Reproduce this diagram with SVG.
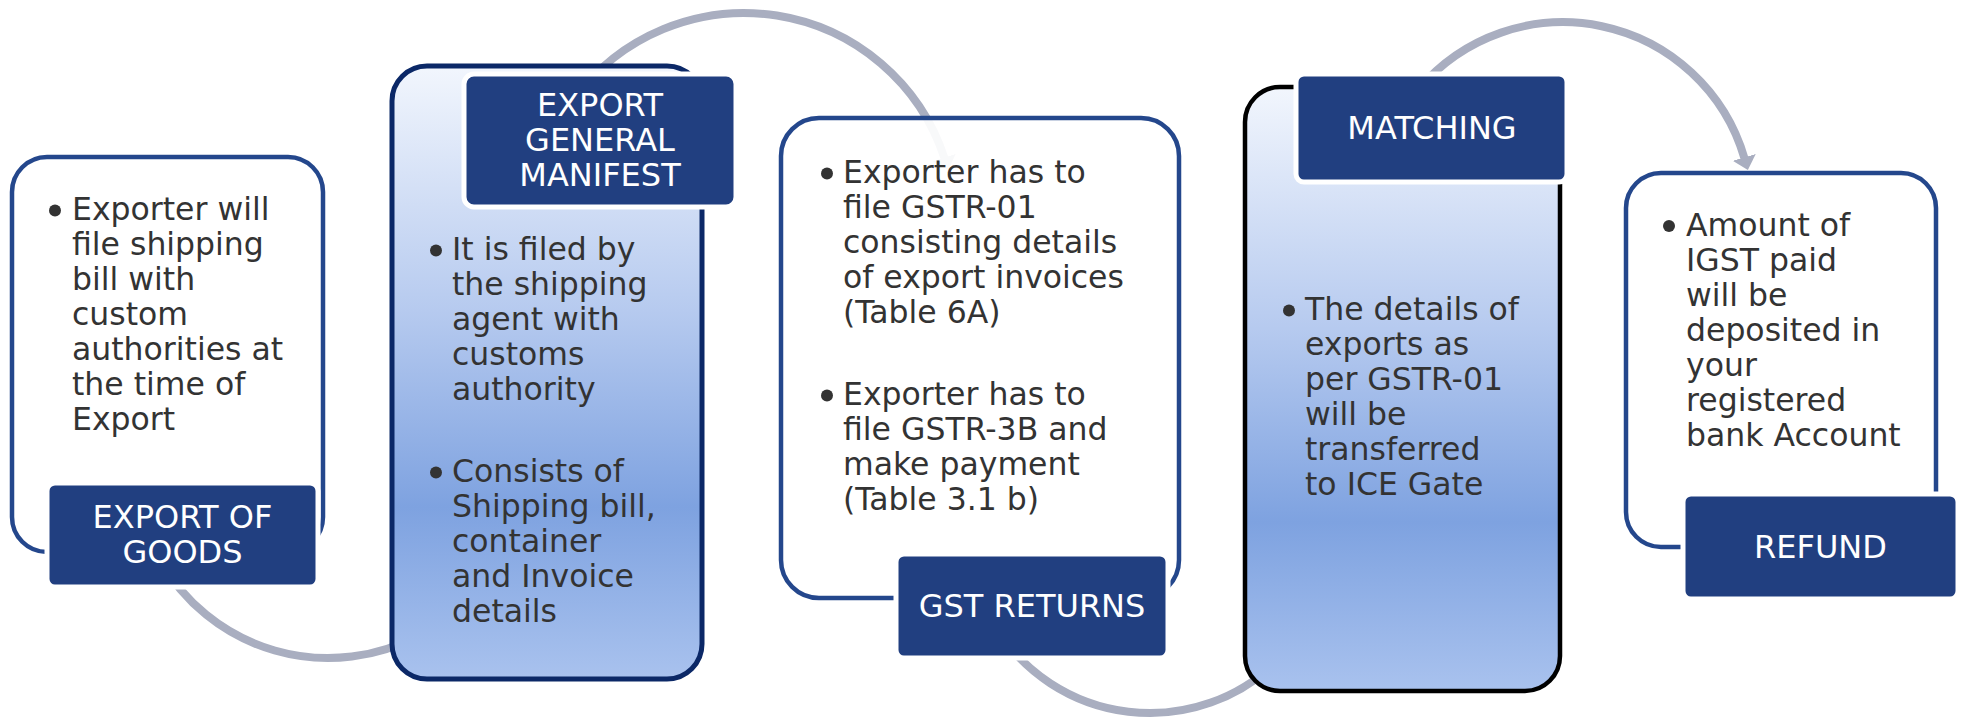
<svg xmlns="http://www.w3.org/2000/svg" width="1961" height="718" viewBox="0 0 1961 718">
<defs>
<linearGradient id="blueGrad" x1="0" y1="0" x2="0" y2="1">
<stop offset="0" stop-color="#F2F6FD"/>
<stop offset="0.4" stop-color="#B6CAEF"/>
<stop offset="0.72" stop-color="#7EA2E0"/>
<stop offset="1" stop-color="#A9C2EE"/>
</linearGradient>
<marker id="ah" markerUnits="userSpaceOnUse" markerWidth="26" markerHeight="26" refX="1" refY="13" orient="auto">
<path d="M0,1 L13,13 L0,25 z" fill="#A9AEC0"/>
</marker>
<style>
.arc{fill:none;stroke:#A9AEC0;stroke-width:8}
.wbox{fill:#FFFFFF;fill-opacity:0.92;stroke:#24478C;stroke-width:4.5}
.gbox{fill:url(#blueGrad);stroke:#0B2867;stroke-width:5}
.kbox{fill:url(#blueGrad);stroke:#000000;stroke-width:4.5}
.lab{fill:#213F80;stroke:#FFFFFF;stroke-width:5}
.lt{font-family:"DejaVu Sans","Liberation Sans",sans-serif;font-size:32px;fill:#FFFFFF;text-anchor:middle}
.bt{font-family:"DejaVu Sans","Liberation Sans",sans-serif;font-size:31.5px;fill:#333333}
.bul{fill:#333333}
</style>
</defs>
<rect width="1961" height="718" fill="#FFFFFF"/>
<g id="connectors">
<path class="arc" d="M160,560 A193,193 0 0,0 420,634.7"/>
<path class="arc" d="M573.3,100 A211,211 0 0,1 944.6,158.5" marker-end="url(#ah)"/>
<path class="arc" d="M997.3,630 A182,182 0 0,0 1275,663.3"/>
<path class="arc" d="M1418,90 A189,189 0 0,1 1744.5,158.4" marker-end="url(#ah)"/>
</g>
<g id="node-export-of-goods">
<rect class="wbox" x="12" y="157" width="311" height="395" rx="35"/>
<circle class="bul" cx="55" cy="210.5" r="6"/>
<text class="bt" x="72" y="220">Exporter will</text>
<text class="bt" x="72" y="255">file shipping</text>
<text class="bt" x="72" y="290">bill with</text>
<text class="bt" x="72" y="325">custom</text>
<text class="bt" x="72" y="360">authorities at</text>
<text class="bt" x="72" y="395">the time of</text>
<text class="bt" x="72" y="430">Export</text>
<rect class="lab" x="47" y="483" width="271" height="104" rx="8"/>
<text class="lt" x="182.5" y="528">EXPORT OF</text>
<text class="lt" x="182.5" y="563">GOODS</text>
</g>
<g id="node-export-general-manifest">
<rect class="gbox" x="392" y="66" width="310" height="613" rx="35"/>
<circle class="bul" cx="436" cy="250.5" r="6"/>
<text class="bt" x="452" y="260">It is filed by</text>
<text class="bt" x="452" y="295">the shipping</text>
<text class="bt" x="452" y="330">agent with</text>
<text class="bt" x="452" y="365">customs</text>
<text class="bt" x="452" y="400">authority</text>
<circle class="bul" cx="436" cy="472.5" r="6"/>
<text class="bt" x="452" y="482">Consists of</text>
<text class="bt" x="452" y="517">Shipping bill,</text>
<text class="bt" x="452" y="552">container</text>
<text class="bt" x="452" y="587">and Invoice</text>
<text class="bt" x="452" y="622">details</text>
<rect class="lab" x="464" y="74" width="272" height="133" rx="10"/>
<text class="lt" x="600" y="116">EXPORT</text>
<text class="lt" x="600" y="151">GENERAL</text>
<text class="lt" x="600" y="186">MANIFEST</text>
</g>
<g id="node-gst-returns">
<rect class="wbox" x="781" y="118" width="398" height="480" rx="38"/>
<circle class="bul" cx="827" cy="173.5" r="6"/>
<text class="bt" x="843" y="183">Exporter has to</text>
<text class="bt" x="843" y="218">file GSTR-01</text>
<text class="bt" x="843" y="253">consisting details</text>
<text class="bt" x="843" y="288">of export invoices</text>
<text class="bt" x="843" y="323">(Table 6A)</text>
<circle class="bul" cx="827" cy="395.5" r="6"/>
<text class="bt" x="843" y="405">Exporter has to</text>
<text class="bt" x="843" y="440">file GSTR-3B and</text>
<text class="bt" x="843" y="475">make payment</text>
<text class="bt" x="843" y="510">(Table 3.1 b)</text>
<rect class="lab" x="896" y="554" width="272" height="104" rx="8"/>
<text class="lt" x="1032" y="617">GST RETURNS</text>
</g>
<g id="node-matching">
<rect class="kbox" x="1245" y="87" width="315" height="604" rx="35"/>
<circle class="bul" cx="1289" cy="310.5" r="6"/>
<text class="bt" x="1305" y="320">The details of</text>
<text class="bt" x="1305" y="355">exports as</text>
<text class="bt" x="1305" y="390">per GSTR-01</text>
<text class="bt" x="1305" y="425">will be</text>
<text class="bt" x="1305" y="460">transferred</text>
<text class="bt" x="1305" y="495">to ICE Gate</text>
<rect class="lab" x="1296" y="74" width="271" height="108" rx="8"/>
<text class="lt" x="1432" y="139">MATCHING</text>
</g>
<g id="node-refund">
<rect class="wbox" x="1626" y="173" width="310" height="374" rx="35"/>
<circle class="bul" cx="1669" cy="226" r="6"/>
<text class="bt" x="1686" y="236">Amount of</text>
<text class="bt" x="1686" y="271">IGST paid</text>
<text class="bt" x="1686" y="306">will be</text>
<text class="bt" x="1686" y="341">deposited in</text>
<text class="bt" x="1686" y="376">your</text>
<text class="bt" x="1686" y="411">registered</text>
<text class="bt" x="1686" y="446">bank Account</text>
<rect class="lab" x="1683" y="494" width="275" height="105" rx="8"/>
<text class="lt" x="1820.5" y="558">REFUND</text>
</g>
</svg>
